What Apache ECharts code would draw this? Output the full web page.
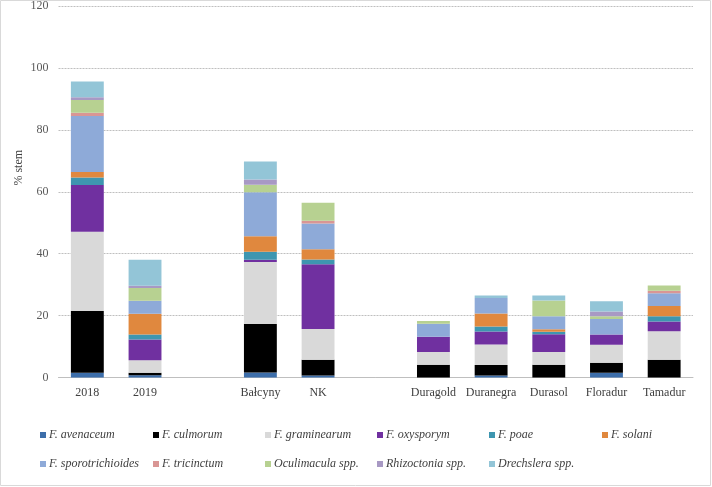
<!DOCTYPE html>
<html>
<head>
<meta charset="utf-8">
<script src="https://cdn.jsdelivr.net/npm/echarts@6/dist/echarts.min.js"></script>
<style>
  html, body { margin: 0; padding: 0; background: #fff; }
  #main { width: 712px; height: 487px; }
</style>
</head>
<body>
<div id="main"></div>
<script>
// categories (blank slots are the gaps between groups)
var categories = ['2018', '2019', '', 'Bałcyny', 'NK', '', 'Duragold', 'Duranegra', 'Durasol', 'Floradur', 'Tamadur'];

var names = ['F. avenaceum', 'F. culmorum', 'F. graminearum', 'F. oxysporym', 'F. poae', 'F. solani',
	'F. sporotrichioides', 'F. tricinctum', 'Oculimacula spp.', 'Rhizoctonia spp.', 'Drechslera spp.'];

var colors = ['#3d6eaa', '#000000', '#d9d9d9', '#7030a0', '#3e96b0', '#e0883e',
	'#8eaad8', '#d99694', '#b7d191', '#a899c4', '#93c5d7'];

var avenaceum       = [1.5, 0.75, null, 1.6, 0.65, null, 0,   0.65, 0,   1.5, 0];
var culmorum        = [20.0, 0.75, null, 15.7, 5.1, null, 4.1, 3.4, 4.1, 3.3, 5.7];
var graminearum     = [25.6, 4.1, null, 20.0, 9.9, null, 4.1, 6.6, 4.1, 5.8, 9.2];
var oxysporym       = [15.1, 6.7, null, 0.75, 20.9, null, 5.0, 4.2, 5.8, 3.3, 3.2];
var poae            = [2.4, 1.6, null, 2.6, 1.6, null, 0,   1.6, 0.75, 0,  1.7];
var solani          = [1.8, 6.7, null, 5.0, 3.3, null, 0,   4.2, 0.85, 0,  3.3];
var sporotrichioides = [18.1, 4.2, null, 14.2, 8.3, null, 4.2, 5.0, 4.2, 5.0, 4.1];
var tricinctum      = [1.0, 0,   null, 0,   0.9, null, 0,   0,   0,   0,   0.85];
var oculimacula     = [4.1, 4.1, null, 2.4, 5.8, null, 0.85, 0,  5.1, 0.85, 1.7];
var rhizoctonia     = [0.9, 0.75, null, 1.7, 0,  null, 0,   0,   0,   1.6, 0];
var drechslera      = [5.1, 8.4, null, 5.8, 0,   null, 0,   0.85, 1.6, 3.3, 0];

var values = [avenaceum, culmorum, graminearum, oxysporym, poae, solani,
	sporotrichioides, tricinctum, oculimacula, rhizoctonia, drechslera];

var chartDom = document.getElementById('main');
var myChart = echarts.init(chartDom);

var serif = '"Liberation Serif", "DejaVu Serif", serif';

var series = [];
for (var i = 0; i < names.length; i++) {
	series.push({
		name: names[i],
		type: 'bar',
		stack: 'total',
		barWidth: '57%',
		itemStyle: { color: colors[i] },
		data: values[i]
	});
}

// one legend per item so the columns line up like the original
var legendCols = [40, 153, 265, 377, 489, 602];
var legends = [];
for (var j = 0; j < names.length; j++) {
	legends.push({
		data: [names[j]],
		left: legendCols[j % 6],
		top: j < 6 ? 429 : 458,
		itemWidth: 6,
		itemHeight: 6,
		itemGap: 0,
		padding: 0,
		icon: 'rect',
		textStyle: {
			fontFamily: serif,
			fontStyle: 'italic',
			fontSize: 12,
			color: '#404040',
			padding: [0, 0, 0, -2]
		},
		selectedMode: false
	});
}

var option = {
	animation: false,
	grid: { left: 58.5, right: 19, top: 6, bottom: 109.5, containLabel: false },
	legend: legends,
	xAxis: {
		type: 'category',
		data: categories,
		axisTick: { show: false },
		axisLine: { lineStyle: { color: '#bfbfbf', width: 1 } },
		axisLabel: { fontFamily: serif, fontSize: 12, color: '#404040', margin: 9, interval: 0 }
	},
	yAxis: {
		type: 'value',
		min: 0,
		max: 120,
		interval: 20,
		name: '% stem',
		nameLocation: 'middle',
		nameGap: 34,
		nameMoveOverlap: false,
		nameTextStyle: { fontFamily: serif, fontSize: 12, color: '#404040', padding: [0, 0, 0, 48] },
		axisLine: { show: false },
		axisTick: { show: false },
		axisLabel: { fontFamily: serif, fontSize: 12, color: '#595959', margin: 10 },
		splitLine: { lineStyle: { color: '#bfbfbf', type: [2, 1], width: 1 } }
	},
	graphic: [{
		type: 'rect',
		shape: { x: 0.5, y: 0.5, width: 710, height: 485 },
		style: { fill: 'none', stroke: '#d9d9d9', lineWidth: 1 },
		silent: true
	}],
	series: series
};

myChart.setOption(option);
</script>
</body>
</html>
